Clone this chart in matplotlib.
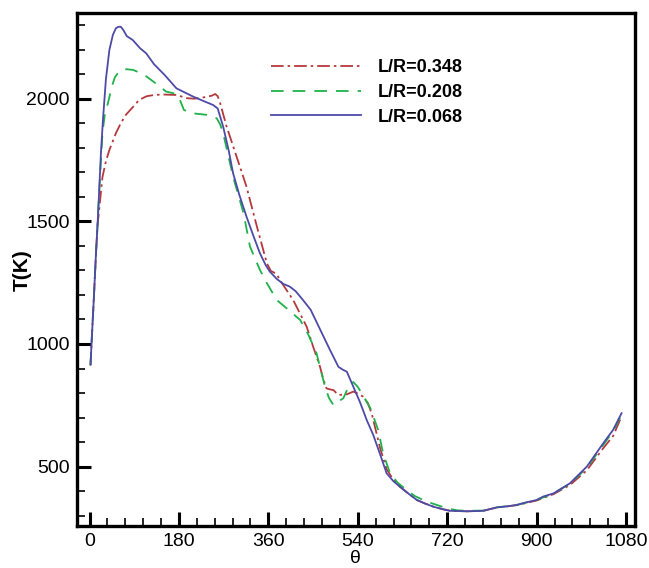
import matplotlib
matplotlib.use("Agg")
import matplotlib.pyplot as plt
from matplotlib.ticker import MultipleLocator

plt.rcParams['font.family'] = ['Liberation Sans', 'DejaVu Sans']

# ---- data ----
labels = ["L/R=0.348", "L/R=0.208", "L/R=0.068"]

theta_348 = [2, 5, 9, 13, 16, 20, 26, 33, 40, 53, 63, 73, 87, 100, 115, 130, 147, 175, 196, 210,
             222, 236, 246, 253, 258, 263, 270, 276, 296, 316, 337, 357, 365, 377, 383, 395, 410,
             437, 450, 464, 470, 477, 484, 491, 501, 518, 531, 540, 551, 560, 568, 576, 585, 598,
             612, 625, 642, 659, 675, 692, 710, 726, 760, 793, 806, 820, 860, 900, 934, 967, 1001,
             1034, 1054, 1071]
T_348 = [915, 1040, 1200, 1370, 1480, 1560, 1680, 1745, 1791, 1859, 1900, 1934, 1965, 1995, 2010,
         2015, 2017, 2015, 2002, 2000, 2002, 2008, 2012, 2019, 2010, 1981, 1930, 1886, 1764, 1641,
         1478, 1329, 1298, 1285, 1261, 1225, 1179, 1071, 990, 907, 860, 819, 815, 812, 792, 795,
         806, 798, 785, 760, 717, 650, 575, 490, 445, 418, 390, 364, 350, 337, 327, 320, 318, 320,
         327, 333, 343, 362, 388, 425, 485, 575, 625, 705]

theta_208 = [2, 5, 9, 13, 16, 20, 26, 31, 37, 45, 51, 57, 63, 75, 88, 102, 115, 142, 154, 169, 178,
             182, 190, 200, 209, 236, 256, 263, 269, 289, 310, 323, 343, 357, 377, 400, 424, 440,
             457, 474, 482, 491, 511, 520, 531, 540, 544, 565, 581, 591, 605, 620, 638, 655, 672,
             690, 705, 720, 740, 760, 793, 806, 820, 860, 900, 934, 967, 1001, 1034, 1054, 1071]
T_208 = [915, 1040, 1200, 1370, 1480, 1640, 1859, 1940, 1981, 2050, 2087, 2104, 2117, 2120, 2117,
         2105, 2090, 2049, 2029, 2022, 2010, 1995, 1954, 1945, 1940, 1934, 1920, 1895, 1859, 1682,
         1533, 1397, 1302, 1248, 1179, 1140, 1098, 1040, 962, 826, 780, 751, 779, 820, 845, 825,
         812, 740, 650, 554, 473, 435, 405, 380, 364, 350, 340, 330, 322, 320, 321, 327, 334, 344,
         364, 391, 430, 495, 588, 645, 712]

theta_068 = [2, 5, 9, 13, 16, 20, 23, 27, 33, 40, 47, 53, 58, 63, 68, 75, 87, 102, 114, 130, 151,
             175, 209, 230, 249, 258, 269, 280, 289, 302, 316, 330, 343, 355, 363, 377, 390, 403,
             415, 427, 445, 464, 483, 501, 510, 518, 531, 544, 558, 571, 585, 598, 612, 625, 642,
             659, 675, 692, 710, 726, 760, 793, 806, 820, 840, 860, 880, 900, 913, 934, 967, 1001,
             1034, 1054, 1071]
T_068 = [915, 1040, 1200, 1370, 1480, 1650, 1780, 1913, 2080, 2199, 2260, 2287, 2293, 2293, 2280,
         2255, 2239, 2205, 2185, 2140, 2097, 2042, 2008, 1990, 1974, 1960, 1886, 1790, 1696, 1605,
         1519, 1440, 1370, 1320, 1295, 1265, 1245, 1234, 1215, 1186, 1140, 1060, 980, 907, 895,
         887, 826, 765, 690, 630, 550, 473, 440, 418, 390, 364, 350, 337, 327, 320, 318, 320, 327,
         334, 338, 344, 355, 364, 378, 391, 432, 500, 595, 650, 718]

x_ticks = [0, 180, 360, 540, 720, 900, 1080]
y_ticks = [500, 1000, 1500, 2000]

# ---- figure ----
fig = plt.figure(figsize=(6.49, 5.68), dpi=100)
ax = fig.add_axes([0.1182, 0.0739, 0.8602, 0.9027])

c_red = "#b5393c"
c_green = "#1fb24a"
c_blue = "#4d4aa8"

ax.plot(theta_348, T_348, color=c_red, lw=1.3, linestyle=(0, (7, 2.2, 1.4, 2.2)), label=labels[0])
ax.plot(theta_208, T_208, color=c_green, lw=1.3, linestyle=(0, (7, 5)), label=labels[1])
ax.plot(theta_068, T_068, color=c_blue, lw=1.3, linestyle='-', label=labels[2])

ax.set_xlim(-25.8, 1098)
ax.set_ylim(258, 2348)
ax.set_xticks(x_ticks)
ax.set_yticks(y_ticks)
ax.xaxis.set_minor_locator(MultipleLocator(36))
ax.yaxis.set_minor_locator(MultipleLocator(100))

ax.tick_params(which='major', direction='in', length=10, width=2.2, labelsize=14, pad=5,
               top=False, right=False)
ax.tick_params(which='minor', direction='in', length=6, width=1.2, top=False, right=False)
for s in ax.spines.values():
    s.set_linewidth(2.4)

ax.set_xlabel("θ", fontsize=14, labelpad=0)
ax.set_ylabel("T(K)", fontsize=15, fontweight='bold')
ax.yaxis.set_label_coords(-0.08, 0.5)

leg = ax.legend(loc='upper left', bbox_to_anchor=(0.348, 0.911), frameon=False,
                prop={'weight': 'bold', 'size': 13}, handlelength=5.0, handletextpad=0.9,
                labelspacing=0.44, borderpad=0, borderaxespad=0)

fig.savefig("out.png", dpi=100)
